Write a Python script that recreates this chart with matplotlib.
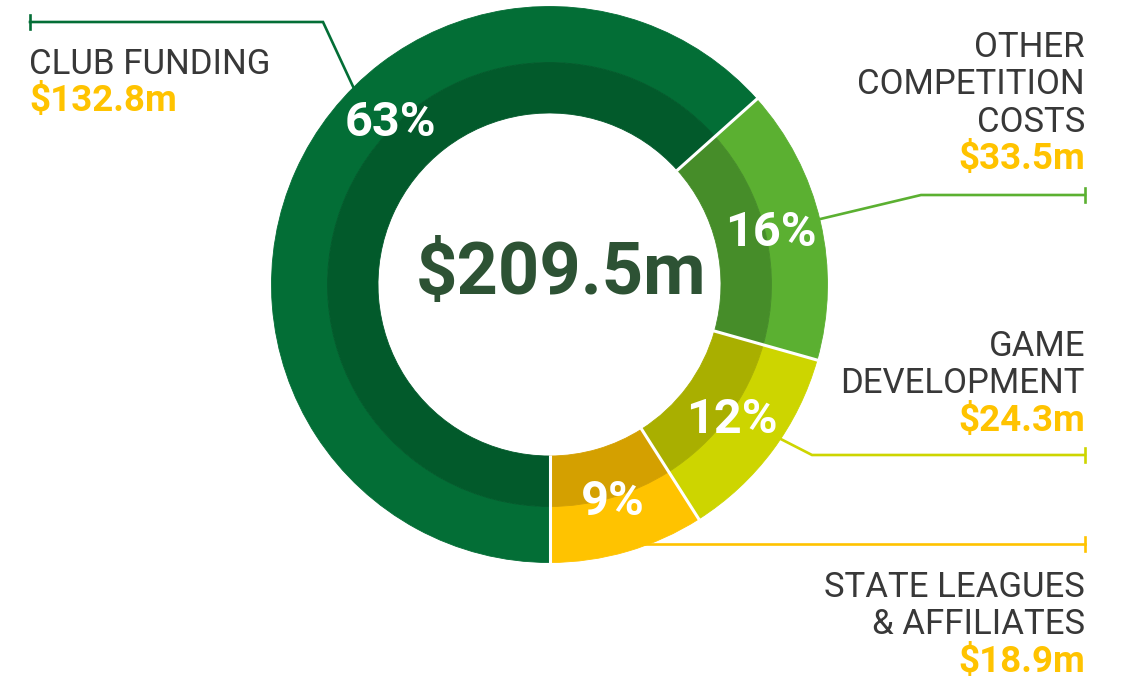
import numpy as np
import matplotlib
matplotlib.use("Agg")
import matplotlib.pyplot as plt

# ---- data ----
categories = ["CLUB FUNDING", "OTHER\nCOMPETITION\nCOSTS", "GAME\nDEVELOPMENT", "STATE LEAGUES\n& AFFILIATES"]
values = [132.8, 33.5, 24.3, 18.9]
value_labels = ["$132.8m", "$33.5m", "$24.3m", "$18.9m"]
pct_labels = ["63%", "16%", "12%", "9%"]
total_label = "$209.5m"

outer_colors = ["#036E36", "#5BB031", "#CDD500", "#FFC300"]
inner_colors = ["#025A2B", "#468D29", "#A9AF00", "#D4A000"]

W, H = 1129, 679
fig = plt.figure(figsize=(W / 100, H / 100), dpi=100)
ax = fig.add_axes([0, 0, 1, 1])

def Y(py):
    return H - py

cx, cy = 549.5, Y(284.5)
R_out, R_mid, R_in = 278, 222, 171.5

ax.pie(values, radius=R_out, center=(cx, cy), startangle=-90, counterclock=False,
       colors=outer_colors, wedgeprops=dict(width=R_out - R_mid, linewidth=0.6),
       frame=True)
ax.pie(values, radius=R_mid, center=(cx, cy), startangle=-90, counterclock=False,
       colors=inner_colors, wedgeprops=dict(width=R_mid - R_in, linewidth=0.6),
       frame=True)
for w in ax.patches:
    w.set_edgecolor(w.get_facecolor())
ax.set_xlim(0, W)
ax.set_ylim(0, H)
ax.set_aspect("auto")
ax.axis("off")

fr = np.array(values) / sum(values)
bounds = -90 - 360 * np.concatenate([[0], np.cumsum(fr)])
# white separators
for b in bounds[:-1]:
    a = np.deg2rad(b)
    ax.plot([cx + (R_in - 1) * np.cos(a), cx + (R_out + 1) * np.cos(a)],
            [cy + (R_in - 1) * np.sin(a), cy + (R_out + 1) * np.sin(a)],
            color="white", lw=2.2, solid_capstyle="butt", zorder=5)

# percentage labels
mids = (bounds[:-1] + bounds[1:]) / 2
label_angles = [134.5, mids[1], mids[2], mids[3]]
for lab, ang in zip(pct_labels, label_angles):
    a = np.deg2rad(ang)
    ax.text(cx + 227 * np.cos(a), cy + 227 * np.sin(a), lab, color="white",
            fontsize=35, fontweight="bold", family="Roboto", ha="center", va="center", zorder=6)

ax.text(cx + 12, Y(275), total_label, color="#2D5234", fontsize=52, fontweight="bold",
        family="Roboto", ha="center", va="center", zorder=6)

# leader lines
lw = 1.9
def leader(angle, elbow, end_x, color):
    a = np.deg2rad(angle)
    sx, sy = cx + (R_out - 2) * np.cos(a), cy + (R_out - 2) * np.sin(a)
    xs, ys = [sx], [sy]
    if elbow is not None:
        xs.append(elbow[0]); ys.append(Y(elbow[1]))
        ey = Y(elbow[1])
    else:
        ey = sy
    xs.append(end_x); ys.append(ey)
    ax.plot(xs, ys, color=color, lw=lw, zorder=1, solid_joinstyle="miter")
    ax.plot([end_x, end_x], [ey - 7, ey + 7], color=color, lw=lw, zorder=1)

leader(135, (323, 22), 30, outer_colors[0])
leader(13.6, (921, 195), 1085, outer_colors[1])
leader(-33.8, (812, 455), 1085, outer_colors[2])
leader(-70.2, None, 1085, outer_colors[3])

# category labels
txt_col = "#383838"
val_col = "#FFC300"
fs = 25
vfs = 26.5
step = 37.3
layout = [  # (x, first baseline pixel y, ha)
    (29, 74, "left"),
    (1085, 57, "right"),
    (1085, 356, "right"),
    (1085, 597, "right"),
]
for cat, val, (x, b0, ha) in zip(categories, value_labels, layout):
    lines = cat.split("\n")
    for i, ln in enumerate(lines):
        ax.text(x, Y(b0 + i * step), ln, color=txt_col, fontsize=fs, family="Roboto",
                ha=ha, va="baseline")
    ax.text(x, Y(b0 + len(lines) * step), val, color=val_col, fontsize=vfs,
            fontweight="bold", family="Roboto", ha=ha, va="baseline")

fig.savefig("out.png", dpi=100, facecolor="white")
